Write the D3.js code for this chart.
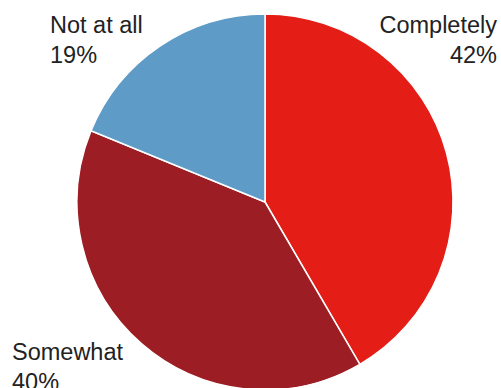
<!DOCTYPE html>
<html>
<head>
<meta charset="utf-8">
<script src="https://cdn.jsdelivr.net/npm/d3@7"></script>
<style>
  html, body { margin: 0; padding: 0; background: #fff; }
  svg { display: block; }
</style>
</head>
<body>
<svg id="chart" width="501" height="388"></svg>
<script>
// Survey answers and their shares (percent)
const categories = ["Completely", "Somewhat", "Not at all"];
const values = [42, 40, 19];
const colors = ["#e41d16", "#9c1d23", "#5e9bc6"];

const svg = d3.select("#chart");
const cx = 265, cy = 202, radius = 188;

const pie = d3.pie().sort(null).value(d => d.value);
const arc = d3.arc().innerRadius(0).outerRadius(radius);

const data = categories.map((c, i) => ({ name: c, value: values[i], color: colors[i] }));

const g = svg.append("g").attr("transform", `translate(${cx},${cy})`);
g.selectAll("path")
  .data(pie(data))
  .join("path")
  .attr("d", arc)
  .attr("fill", d => d.data.color)
  .attr("stroke", "#fff")
  .attr("stroke-width", 1.5)
  .attr("stroke-linejoin", "round");

// Label placement per category: x, anchor, first baseline
const labelPos = {
  "Completely": { x: 497, anchor: "end", y: 33 },
  "Somewhat": { x: 12, anchor: "start", y: 360 },
  "Not at all": { x: 50, anchor: "start", y: 33 }
};

data.forEach(d => {
  const p = labelPos[d.name];
  const t = svg.append("text")
    .attr("x", p.x)
    .attr("y", p.y)
    .attr("text-anchor", p.anchor)
    .attr("font-family", "'Liberation Sans', Arial, Helvetica, sans-serif")
    .attr("font-size", 23.5)
    .attr("fill", "#222");
  t.append("tspan").attr("x", p.x).text(d.name);
  t.append("tspan").attr("x", p.x).attr("dy", 30).text(d.value + "%");
});
</script>
</body>
</html>
